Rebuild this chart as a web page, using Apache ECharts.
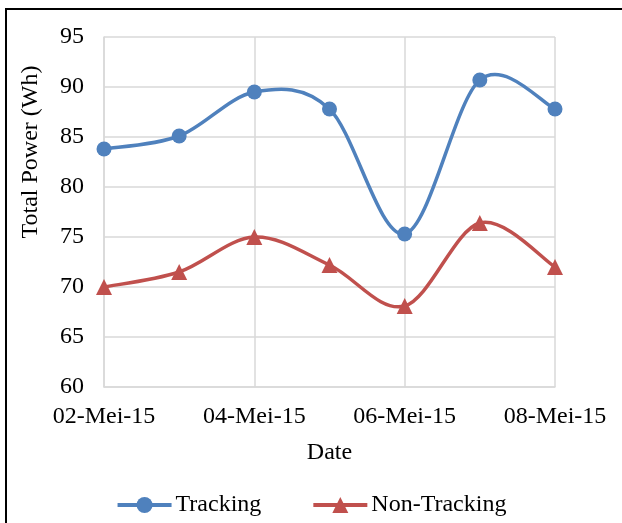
<!DOCTYPE html>
<html>
<head>
<meta charset="utf-8">
<script src="https://cdn.jsdelivr.net/npm/echarts@6/dist/echarts.min.js"></script>
<style>
html,body{margin:0;padding:0;background:#fff;}
#c{width:622px;height:523px;}
</style>
</head>
<body>
<div id="c"></div>
<script>
var categories = ['02-Mei-15','03-Mei-15','04-Mei-15','05-Mei-15','06-Mei-15','07-Mei-15','08-Mei-15'];
var tracking = [83.8, 85.1, 89.5, 87.8, 75.3, 90.7, 87.8];
var nonTracking = [70.0, 71.5, 75.0, 72.2, 68.1, 76.4, 72.0];
var yTicks = {min: 60, max: 95, interval: 5};

var font = 'Liberation Serif';
var BLUE = '#4F81BD', RED = '#C0504D';

// Excel-like smoothed line (Catmull-Rom through the data points), positioned by the axes
function smoothRenderer(values, color) {
  return function (params, api) {
    var i = params.dataIndex;
    var n = values.length;
    if (i >= n - 1) return null;
    function P(k) {
      k = Math.max(0, Math.min(n - 1, k));
      return api.coord([k, values[k]]);
    }
    var p0 = P(i - 1), p1 = P(i), p2 = P(i + 1), p3 = P(i + 2);
    var t = 1 / 6;
    return {
      type: 'bezierCurve',
      shape: {
        x1: p1[0], y1: p1[1], x2: p2[0], y2: p2[1],
        cpx1: p1[0] + (p2[0] - p0[0]) * t, cpy1: p1[1] + (p2[1] - p0[1]) * t,
        cpx2: p2[0] - (p3[0] - p1[0]) * t, cpy2: p2[1] - (p3[1] - p1[1]) * t
      },
      style: {stroke: color, lineWidth: 3.5, fill: 'none', lineCap: 'round'},
      silent: true
    };
  };
}
function pairs(values) { return values.map(function (v, i) { return [i, v]; }); }

var chart = echarts.init(document.getElementById('c'), null, {renderer: 'canvas'});
chart.setOption({
  animation: false,
  backgroundColor: '#fff',
  textStyle: {fontFamily: font},
  grid: {left: 104, right: 67, top: 37, bottom: 136, containLabel: false},
  legend: {
    bottom: 1,
    left: 'center',
    itemWidth: 54,
    itemHeight: 20,
    itemGap: 50,
    textStyle: {fontFamily: font, fontSize: 24, color: '#000', padding: [0,0,0,-1]},
    data: [
      {name: 'Tracking', lineStyle: {opacity: 1, width: 4, color: BLUE}},
      {name: 'Non-Tracking', lineStyle: {opacity: 1, width: 4, color: RED}}
    ]
  },
  xAxis: {
    type: 'category',
    data: categories,
    boundaryGap: false,
    name: 'Date',
    nameLocation: 'middle',
    nameGap: 54,
    nameTextStyle: {fontFamily: font, fontSize: 24, color: '#000'},
    axisLine: {lineStyle: {color: '#d9d9d9', width: 1.5}},
    axisTick: {show: false},
    axisLabel: {interval: 1, margin: 18, fontFamily: font, fontSize: 24, color: '#000'},
    splitLine: {show: true, interval: 1, lineStyle: {color: '#d9d9d9', width: 1.5}}
  },
  yAxis: {
    type: 'value',
    min: yTicks.min, max: yTicks.max, interval: yTicks.interval,
    axisLine: {show: true, lineStyle: {color: '#d9d9d9', width: 1.5}},
    axisTick: {show: false},
    axisLabel: {margin: 20, fontFamily: font, fontSize: 24, color: '#000'},
    splitLine: {show: true, lineStyle: {color: '#d9d9d9', width: 1.5}}
  },
  graphic: [
    {type: 'rect', shape: {x: 6, y: 9, width: 700, height: 600}, style: {fill: 'none', stroke: '#000', lineWidth: 2}, silent: true},
    {type: 'text', x: 31, y: 152, rotation: Math.PI/2,
     style: {text: 'Total Power (Wh)', font: '24px "Liberation Serif"', fill: '#000', align: 'center', verticalAlign: 'middle'}}
  ],
  series: [
    {type: 'custom', name: 'TrackingCurve', data: pairs(tracking), encode: {x: 0, y: 1},
     renderItem: smoothRenderer(tracking, BLUE), z: 1},
    {type: 'custom', name: 'NonTrackingCurve', data: pairs(nonTracking), encode: {x: 0, y: 1},
     renderItem: smoothRenderer(nonTracking, RED), z: 1},
    {name: 'Tracking', type: 'line', data: tracking,
     symbol: 'circle', symbolSize: 15, z: 3,
     itemStyle: {color: BLUE}, lineStyle: {color: BLUE, width: 3.5, opacity: 0}},
    {name: 'Non-Tracking', type: 'line', data: nonTracking,
     symbol: 'triangle', symbolSize: 16, z: 3,
     itemStyle: {color: RED}, lineStyle: {color: RED, width: 3.5, opacity: 0}}
  ]
});
</script>
</body>
</html>
